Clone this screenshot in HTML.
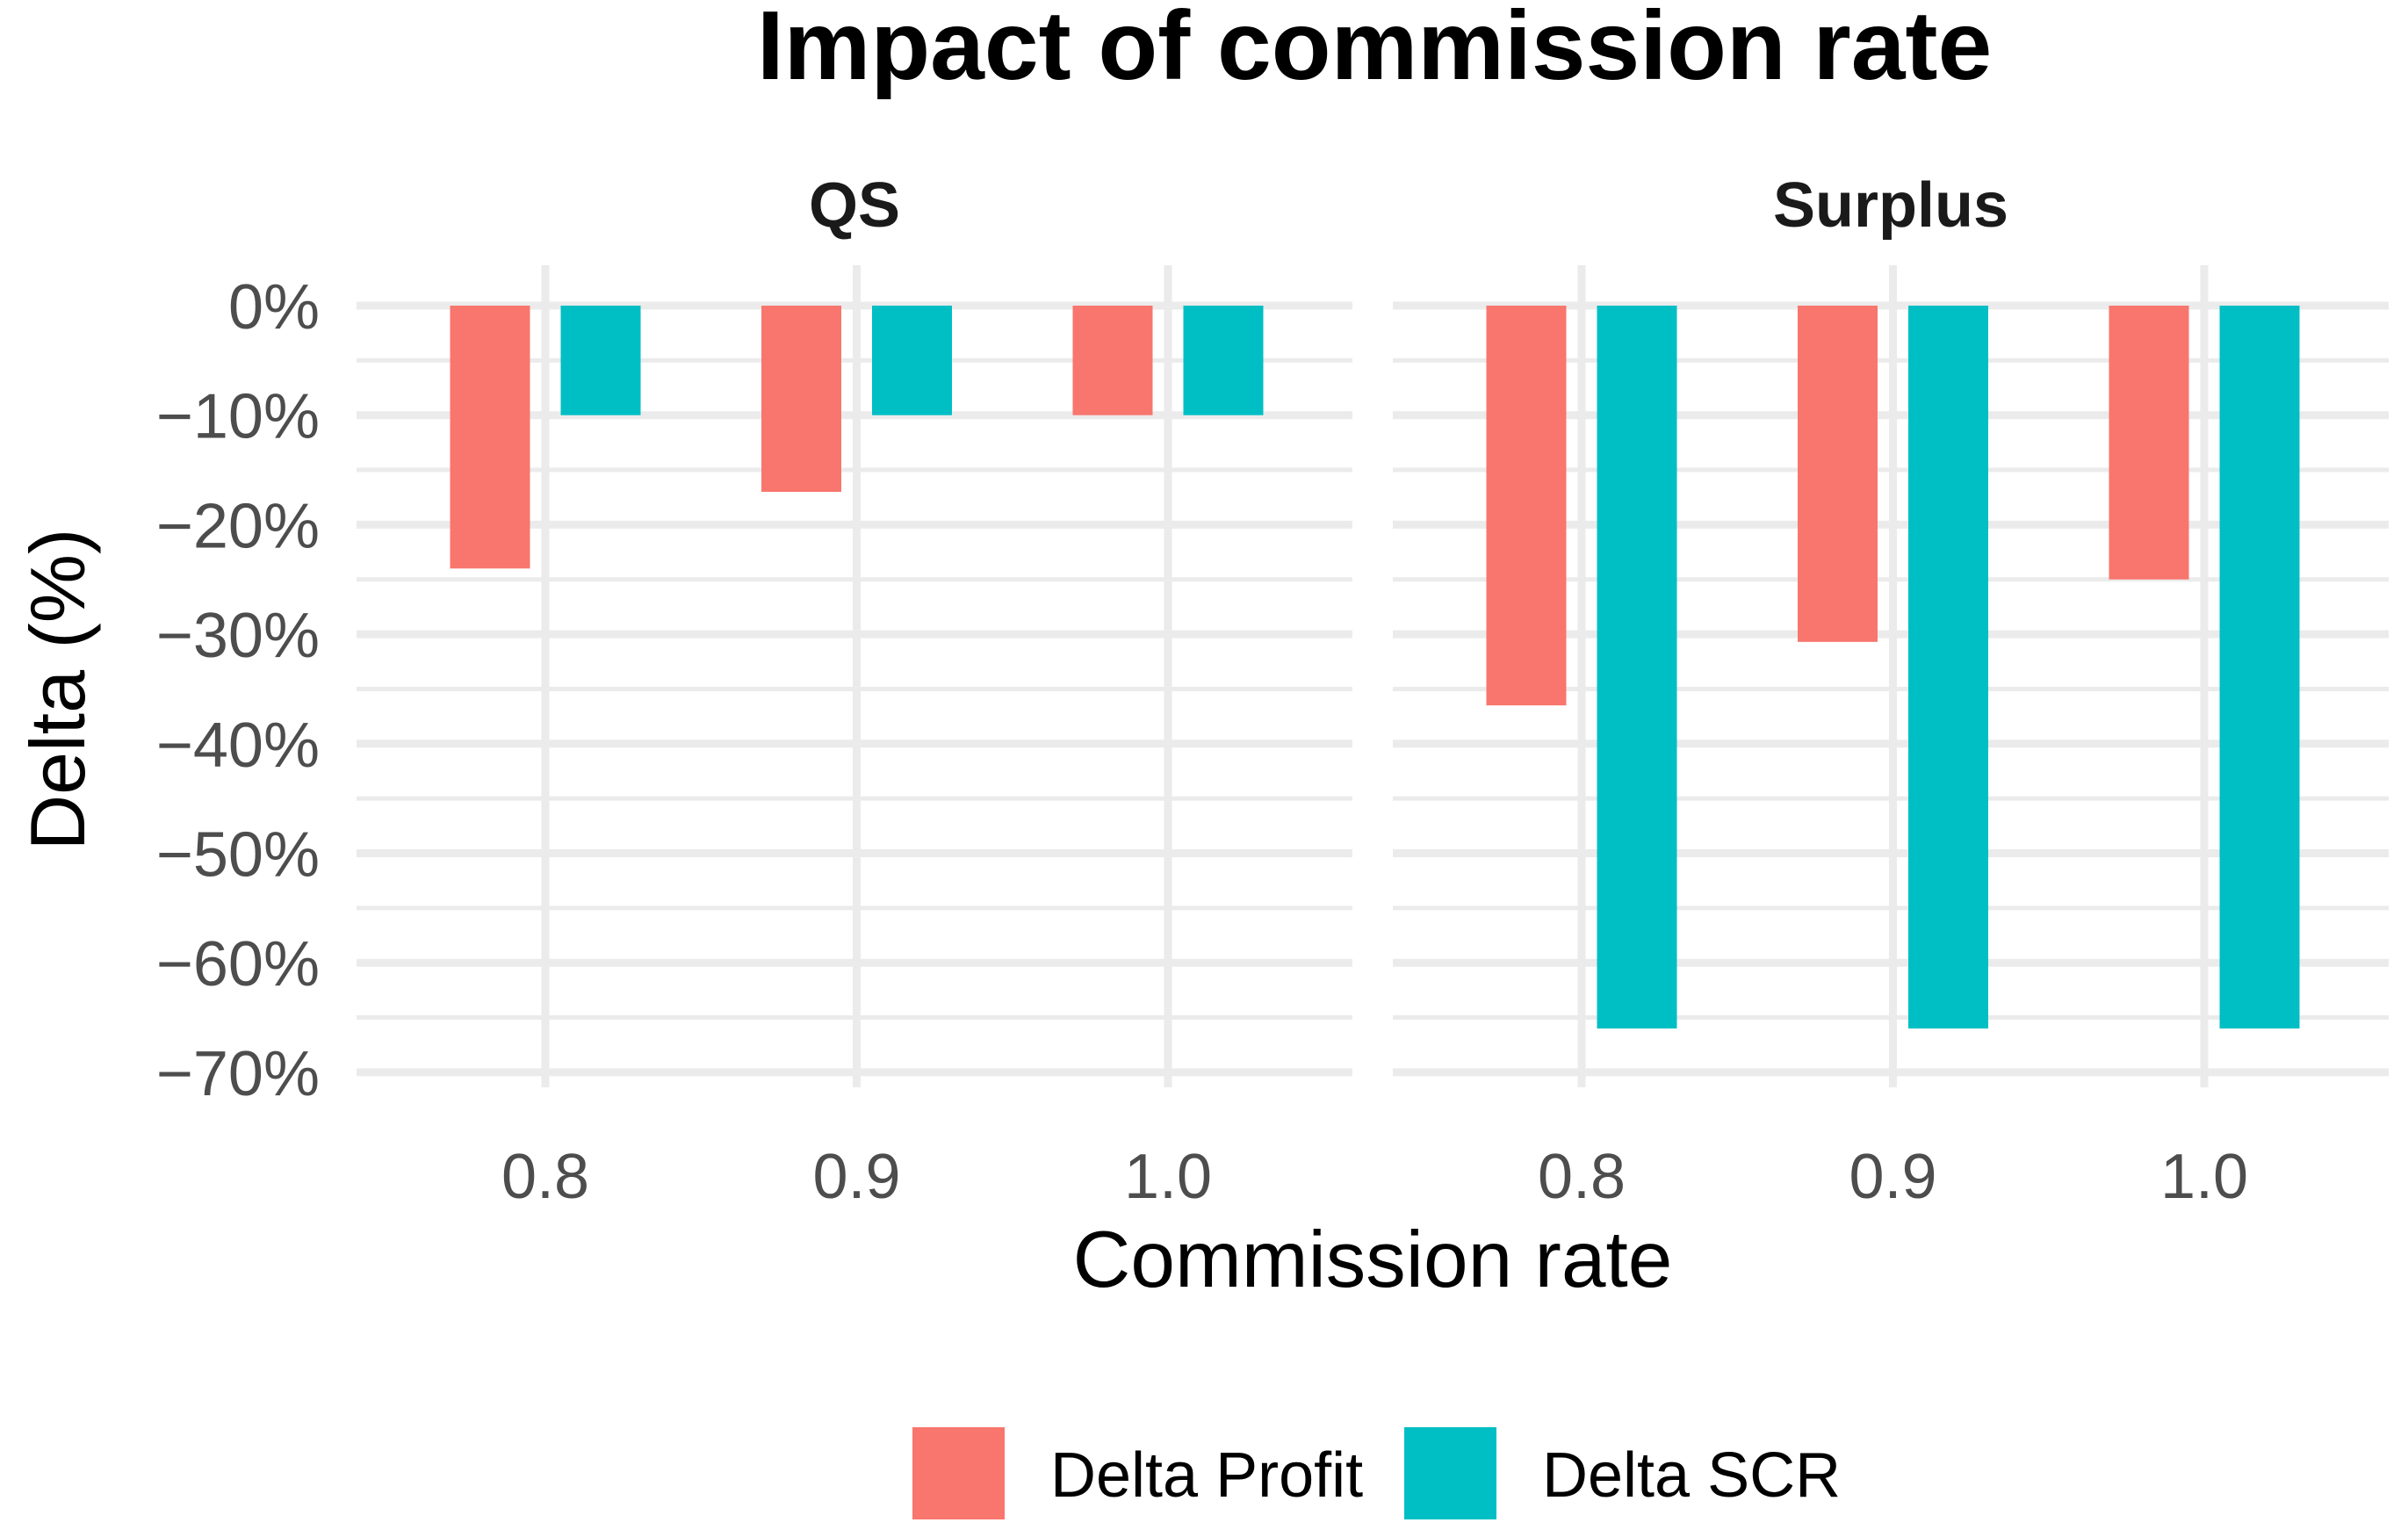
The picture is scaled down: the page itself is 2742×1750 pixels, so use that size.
<!DOCTYPE html>
<html><head><meta charset="utf-8"><style>
body{margin:0;background:#fff}
svg{display:block;font-family:"Liberation Sans",sans-serif}
</style></head><body>
<svg id="chart" width="2742" height="1750" viewBox="0 0 2742 1750">
<text x="1565" y="90" text-anchor="middle" font-size="111" font-weight="bold" fill="#000">Impact of commission rate</text>
<g id="plot"></g>
<text x="1563" y="1465" text-anchor="middle" font-size="91" fill="#000">Commission rate</text>
<text transform="translate(96,785) rotate(-90)" text-anchor="middle" font-size="88" fill="#000">Delta (%)</text>
<g>
<rect x="1039" y="1625" width="105" height="105" fill="#F8766D"/>
<text x="1196" y="1704" font-size="72" fill="#000">Delta Profit</text>
<rect x="1599" y="1625" width="105" height="105" fill="#00BFC4"/>
<text x="1756" y="1704" font-size="72" fill="#000">Delta SCR</text>
</g>
</svg>
<script>
const panels = ["QS", "Surplus"];
const categories = ["0.8", "0.9", "1.0"];
const profitQS = [-24, -17, -10];
const scrQS = [-10, -10, -10];
const profitSurplus = [-36.5, -30.7, -25];
const scrSurplus = [-66, -66, -66];
const yTicks = [0, -10, -20, -30, -40, -50, -60, -70];
const yTickLabels = ["0%", "\u221210%", "\u221220%", "\u221230%", "\u221240%", "\u221250%", "\u221260%", "\u221270%"];

const NS = "http://www.w3.org/2000/svg";
const g = document.getElementById("plot");
const y0 = 348, yPer10 = 124.7;
function yScale(v){ return y0 - v / 10 * yPer10; }
const panelX = [406, 1586], panelW = 1134;
const catStep = 354.5;
function xScale(p, i){ return panelX[p] + 215 + i * catStep; }
function mk(tag, attrs){ const e = document.createElementNS(NS, tag); for (const k in attrs) e.setAttribute(k, attrs[k]); g.appendChild(e); return e; }
const series = [[profitQS, scrQS], [profitSurplus, scrSurplus]];
const colors = ["#F8766D", "#00BFC4"];
const yTop = 302, yBot = 1238;
panels.forEach((name, p) => {
  const x0 = panelX[p];
  for (let k = 0; k < yTicks.length - 1; k++) {
    const yy = yScale((yTicks[k] + yTicks[k+1]) / 2);
    const l = mk("line", {x1:x0, x2:x0+panelW, y1:yy, y2:yy, stroke:"#ebebeb", "stroke-width":5});
    
    
  }
  yTicks.forEach(v => {
    const yy = yScale(v);
    const l = mk("line", {x1:x0, x2:x0+panelW, y1:yy, y2:yy, stroke:"#ebebeb", "stroke-width":9});
    
    
  });
  categories.forEach((c, i) => {
    const xx = xScale(p, i);
    const l = mk("line", {x1:xx, x2:xx, y1:yTop, y2:yBot, stroke:"#ebebeb", "stroke-width":9});
    
    
    const t = mk("text", {x:xx, y:1364, "text-anchor":"middle", "font-size":72, fill:"#4d4d4d"});
    t.textContent = c;
    
    
  });
  series[p].forEach((vals, s) => {
    vals.forEach((v, i) => {
      const cx = xScale(p, i) + (s === 0 ? -63 : 63);
      const ya = yScale(0), yb = yScale(v);
      const r = mk("rect", {x:cx-45.5, y:Math.min(ya,yb), width:91, height:Math.abs(yb-ya), fill:colors[s]});
      
      
    });
  });
  const st = mk("text", {x:x0+panelW/2, y:258, "text-anchor":"middle", "font-size":72, "font-weight":"bold", fill:"#1a1a1a"});
  st.textContent = name;
  
  
});
yTicks.forEach((v, k) => {
  const t = mk("text", {x:364, y:yScale(v)+26, "text-anchor":"end", "font-size":72, fill:"#4d4d4d"});
  t.textContent = yTickLabels[k];
  
  
});
</script>
</body></html>
